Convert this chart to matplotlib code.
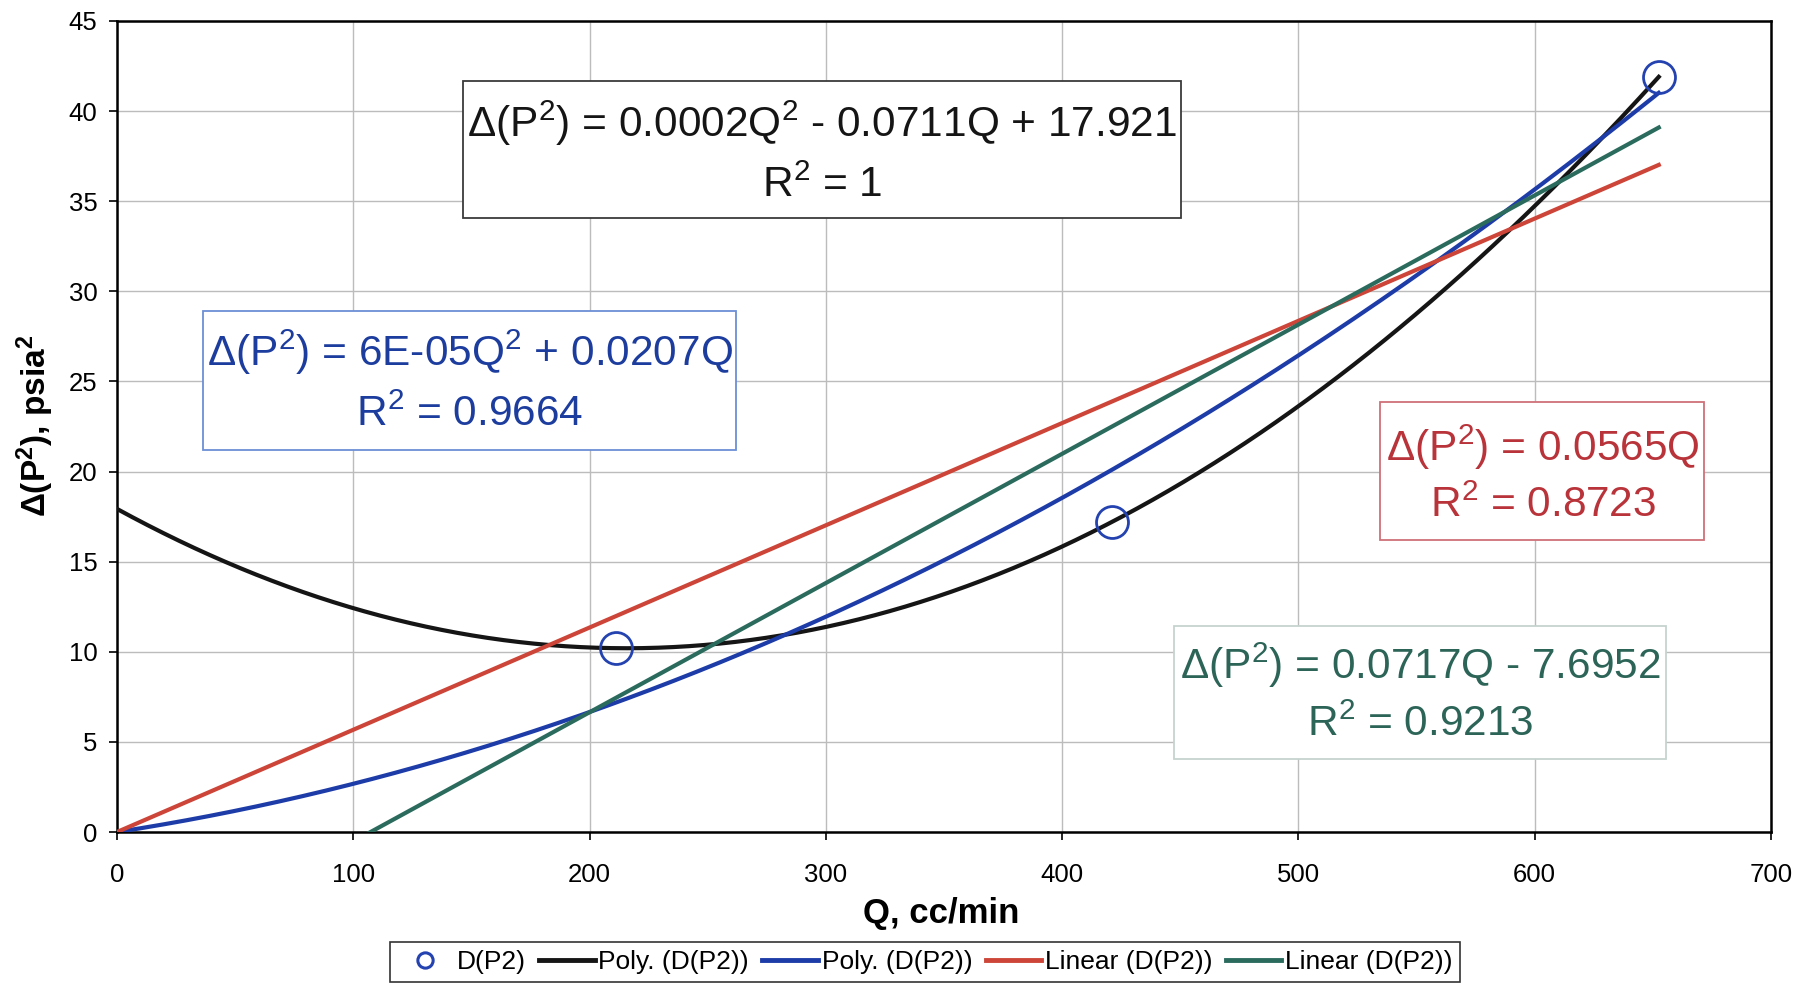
import numpy as np
import matplotlib
matplotlib.use("Agg")
import matplotlib.pyplot as plt
from matplotlib.patches import Rectangle
from matplotlib.lines import Line2D

plt.rcParams['font.family'] = ['Liberation Sans', 'DejaVu Sans']
plt.rcParams['mathtext.fontset'] = 'custom'
plt.rcParams['mathtext.rm'] = 'Liberation Sans'
plt.rcParams['mathtext.it'] = 'Liberation Sans:italic'
plt.rcParams['mathtext.bf'] = 'Liberation Sans:bold'

# measured points, D(P2) vs Q
q_points = [211.0, 421.0, 652.5]
dp2_points = [10.2, 17.2, 41.9]

# linear trend as printed on the chart (slope, intercept)
green_coef = [0.0717, -7.6952]

x_ticks = [0, 100, 200, 300, 400, 500, 600, 700]
y_ticks = [0, 5, 10, 15, 20, 25, 30, 35, 40, 45]

legend_labels = ['D(P2)', 'Poly. (D(P2))', 'Poly. (D(P2))', 'Linear (D(P2))', 'Linear (D(P2))']

c_black = '#151515'
c_blue = '#1d3ca8'
c_red = '#cc4538'
c_green = '#2b6b5d'


def fit_curves(q, y):
    q = np.asarray(q)
    y = np.asarray(y)
    # full quadratic (exact through 3 points)
    poly2 = np.polyfit(q, y, 2)
    # quadratic through origin
    A = np.column_stack([q ** 2, q])
    a, b = np.linalg.lstsq(A, y, rcond=None)[0]
    # linear through origin
    slope0 = (q * y).sum() / (q * q).sum()
    return poly2, (a, b), slope0


def main():
    fig = plt.figure(figsize=(18.18, 9.86), dpi=100)
    W, H = 1818, 986
    L, R, T, B = 117, 1771, 21, 832
    ax = fig.add_axes([L / W, (H - B) / H, (R - L) / W, (B - T) / H])

    poly2, (a0, b0), slope0 = fit_curves(q_points, dp2_points)
    qq = np.linspace(0, q_points[-1], 400)

    ax.plot(qq, np.polyval(poly2, qq), color=c_black, lw=3, zorder=3)
    ax.plot(qq, a0 * qq ** 2 + b0 * qq, color=c_blue, lw=3, zorder=3)
    ax.plot(qq, slope0 * qq, color=c_red, lw=3, zorder=3)
    ax.plot(qq, green_coef[0] * qq + green_coef[1], color=c_green, lw=3, zorder=3)
    ax.plot(q_points, dp2_points, 'o', ms=23, mfc='none', mec='#2443b0', mew=2, zorder=5)

    ax.set_xlim(0, 700)
    ax.set_ylim(0, 45)
    ax.set_xticks(x_ticks)
    ax.set_yticks(y_ticks)
    ax.grid(True, color='#bcbcbc', lw=1)
    ax.set_axisbelow(True)
    ax.tick_params(direction='out', length=6, width=1.2, labelsize=18.5)
    ax.tick_params(axis='x', pad=16)
    ax.tick_params(axis='y', pad=8)
    for s in ax.spines.values():
        s.set_color('black')
        s.set_linewidth(1.8)

    def px2data(px, py):
        return (px - L) / (R - L) * 700, (B - py) / (B - T) * 45

    # equation boxes: (x0, y0, x1, y1) pixel box, line centres, colours
    boxes = [
        ((463, 81, 1181, 218), 822, (123, 186), c_black, '#3a3a3a',
         [r'Δ(P$^2$) = 0.0002Q$^2$ - 0.0711Q + 17.921', r'R$^2$ = 1']),
        ((203, 311, 736, 450), 470, (352, 415), '#1d3d9e', '#6b8fd6',
         [r'Δ(P$^2$) = 6E-05Q$^2$ + 0.0207Q', r'R$^2$ = 0.9664']),
        ((1380, 402, 1704, 540), 1543, (447, 506), '#b8343a', '#cf7078',
         [r'Δ(P$^2$) = 0.0565Q', r'R$^2$ = 0.8723']),
        ((1174, 626, 1666, 759), 1420, (665, 725), '#2c6457', '#c5d3cf',
         [r'Δ(P$^2$) = 0.0717Q - 7.6952', r'R$^2$ = 0.9213']),
    ]
    for (x0, y0, x1, y1), cx, lines_y, tc, ec, texts in boxes:
        dx0, dy0 = px2data(x0, y1)
        dx1, dy1 = px2data(x1, y0)
        ax.add_patch(Rectangle((dx0, dy0), dx1 - dx0, dy1 - dy0, fc='white', ec=ec,
                               lw=1.3, zorder=6))
        for ly, t in zip(lines_y, texts):
            tx, ty = px2data(cx, ly)
            ax.text(tx, ty, t, color=tc, fontsize=30.5, ha='center', va='center', zorder=7)

    fig.text(941 / W, (H - 913) / H, 'Q, cc/min', fontsize=25, fontweight='bold',
             ha='center', va='center')
    fig.text(35 / W, (H - 426) / H, r'Δ(P$^\mathbf{2}$), psia$^\mathbf{2}$', fontsize=24,
             fontweight='bold', rotation=90, ha='center', va='center')

    handles = [
        Line2D([], [], ls='none', marker='o', ms=11, mfc='none', mec='#2443b0', mew=2.2),
        Line2D([], [], color=c_black, lw=3.5),
        Line2D([], [], color=c_blue, lw=3.5),
        Line2D([], [], color=c_red, lw=3.5),
        Line2D([], [], color=c_green, lw=3.5),
    ]
    leg = fig.legend(handles, legend_labels, loc='center', bbox_to_anchor=(925 / W, (H - 962) / H),
                     ncol=5, fontsize=19, frameon=True, fancybox=False, edgecolor='black',
                     handlelength=2.1, handletextpad=0.15, columnspacing=0.5, borderpad=0.3)
    leg.get_frame().set_linewidth(1.2)

    fig.savefig('out.png', dpi=100)


if __name__ == "__main__":
    main()
